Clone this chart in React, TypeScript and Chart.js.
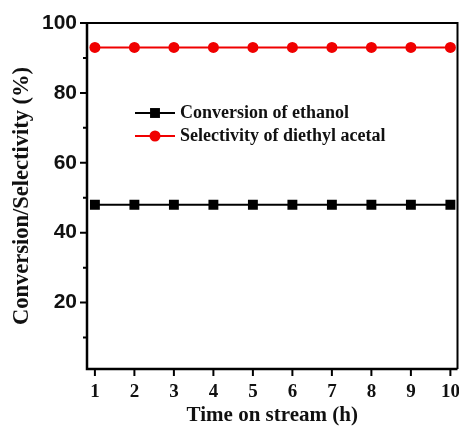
import React, { useEffect, useRef } from "react";
import { Chart, registerables } from "chart.js";

Chart.register(...registerables);

const timeHours = [1, 2, 3, 4, 5, 6, 7, 8, 9, 10];
const conversionEthanol = [48, 48, 48, 48, 48, 48, 48, 48, 48, 48];
const selectivityAcetal = [93, 93, 93, 93, 93, 93, 93, 93, 93, 93];
const yMajorTicks = [20, 40, 60, 80, 100];
const yMinorTicks = [10, 30, 50, 70, 90];
const xTicks = [1, 2, 3, 4, 5, 6, 7, 8, 9, 10];
const seriesLabels = ["Conversion of ethanol", "Selectivity of diethyl acetal"];

const SERIF = '"Liberation Serif", "Times New Roman", serif';
const SANS = '"Liberation Sans", Arial, sans-serif';

const framePlugin = {
  id: "frameAndLegend",
  afterDraw(chart: any) {
    const { ctx, chartArea } = chart;
    const { left, right, top, bottom } = chartArea;
    const xs = chart.scales.x;
    const ys = chart.scales.y;
    ctx.save();
    ctx.strokeStyle = "#000";
    ctx.lineWidth = 2;
    ctx.beginPath();
    ctx.moveTo(left, top);
    ctx.lineTo(right, top);
    ctx.lineTo(right, bottom);
    ctx.stroke();
    ctx.lineWidth = 2.5;
    ctx.beginPath();
    ctx.moveTo(left, top);
    ctx.lineTo(left, bottom);
    ctx.lineTo(right, bottom);
    ctx.stroke();
    ctx.lineWidth = 2;
    ctx.beginPath();
    yMajorTicks.forEach((v) => {
      const y = ys.getPixelForValue(v);
      ctx.moveTo(left - 7, y);
      ctx.lineTo(left, y);
    });
    yMinorTicks.forEach((v) => {
      const y = ys.getPixelForValue(v);
      ctx.moveTo(left - 4, y);
      ctx.lineTo(left, y);
    });
    xTicks.forEach((v) => {
      const x = xs.getPixelForValue(v);
      ctx.moveTo(x, bottom);
      ctx.lineTo(x, bottom + 7);
    });
    ctx.stroke();
    const lx = left + 48;
    const ly0 = top + 90;
    const gap = 23;
    chart.data.datasets.forEach((ds: any, i: number) => {
      const y = ly0 + i * gap;
      ctx.strokeStyle = ds.borderColor;
      ctx.lineWidth = 2;
      ctx.beginPath();
      ctx.moveTo(lx, y);
      ctx.lineTo(lx + 40, y);
      ctx.stroke();
      ctx.fillStyle = ds.pointBackgroundColor;
      ctx.beginPath();
      if (ds.pointStyle === "rect") {
        const s = ds.pointRadius * Math.SQRT1_2;
        ctx.rect(lx + 20 - s, y - s, 2 * s, 2 * s);
      } else {
        ctx.arc(lx + 20, y, ds.pointRadius, 0, Math.PI * 2);
      }
      ctx.fill();
      ctx.fillStyle = "#111";
      ctx.font = `bold 18px ${SERIF}`;
      ctx.textBaseline = "middle";
      ctx.textAlign = "left";
      ctx.fillText(ds.label, lx + 45, y);
    });
    ctx.restore();
  },
};

export default function App() {
  const ref = useRef<HTMLCanvasElement>(null);
  useEffect(() => {
    if (!ref.current) return;
    const chart = new Chart(ref.current, {
      type: "line",
      data: {
        datasets: [
          {
            label: seriesLabels[0],
            data: timeHours.map((t, i) => ({ x: t, y: conversionEthanol[i] })),
            borderColor: "#000",
            backgroundColor: "#000",
            pointBackgroundColor: "#000",
            pointBorderWidth: 0,
            pointStyle: "rect",
            pointRadius: 7,
            borderWidth: 2,
          },
          {
            label: seriesLabels[1],
            data: timeHours.map((t, i) => ({ x: t, y: selectivityAcetal[i] })),
            borderColor: "#f00000",
            backgroundColor: "#f00000",
            pointBackgroundColor: "#f00000",
            pointBorderWidth: 0,
            pointStyle: "circle",
            pointRadius: 5.5,
            borderWidth: 2,
          },
        ],
      },
      options: {
        animation: false,
        responsive: false,
        maintainAspectRatio: false,
        layout: { autoPadding: false, padding: { left: 0, top: 23, right: 1.5, bottom: 0 } },
        plugins: { legend: { display: false }, tooltip: { enabled: false } },
        scales: {
          x: {
            type: "linear",
            min: 0.8,
            max: 10.18,
            grid: { display: false, drawTicks: false },
            border: { display: false },
            afterBuildTicks: (s: any) => {
              s.ticks = xTicks.map((v) => ({ value: v }));
            },
            afterFit: (s: any) => {
              s.height = 58;
              s.paddingLeft = 0;
              s.paddingRight = 0;
            },
            ticks: {
              color: "#111",
              padding: 12,
              maxRotation: 0,
              autoSkip: false,
              font: { family: SERIF, weight: "bold", size: 19 },
            },
            title: {
              display: true,
              text: "Time on stream (h)",
              color: "#111",
              padding: { top: 0, bottom: 1 },
              font: { family: SERIF, weight: "bold", size: 21, lineHeight: 1 },
            },
          },
          y: {
            min: 1,
            max: 100,
            grid: { display: false, drawTicks: false },
            border: { display: false },
            afterBuildTicks: (s: any) => {
              s.ticks = yMajorTicks.map((v) => ({ value: v }));
            },
            afterFit: (s: any) => {
              s.width = 87;
              s.paddingTop = 0;
              s.paddingBottom = 0;
            },
            ticks: {
              color: "#111",
              padding: 10,
              autoSkip: false,
              font: { family: SANS, weight: "bold", size: 21 },
            },
            title: {
              display: true,
              text: "Conversion/Selectivity (%)",
              color: "#111",
              padding: { top: 9, bottom: 0 },
              font: { family: SERIF, weight: "bold", size: 22.5, lineHeight: 1.2 },
            },
          },
        },
      } as any,
      plugins: [framePlugin],
    });
    return () => chart.destroy();
  }, []);
  return (
    <div style={{ position: "fixed", left: 0, top: 0, width: 459, height: 427, background: "#fff" }}>
      <canvas ref={ref} width={459} height={427} style={{ width: 459, height: 427 }} />
    </div>
  );
}
